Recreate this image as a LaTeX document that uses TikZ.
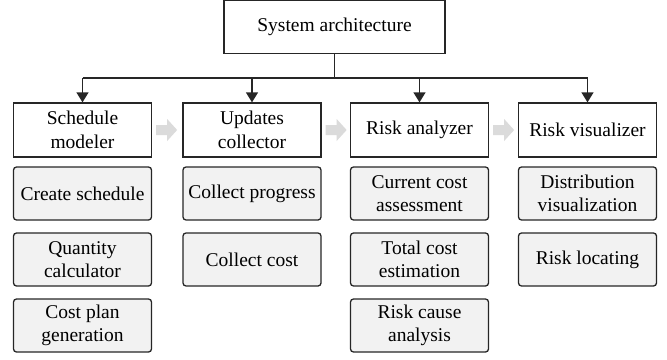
\documentclass[tikz,border=0pt]{standalone}
\usepackage{fontspec}
\setmainfont{Liberation Serif}
\usetikzlibrary{arrows.meta}
\begin{document}
\begin{tikzpicture}[x=1pt,y=-1pt,
  mainbox/.style={draw=black!85, line width=1.3pt, fill=white,
    minimum width=138pt, minimum height=54pt, align=center, inner sep=0pt,
    font=\fontsize{19.5}{23.5}\selectfont},
  subbox/.style={mainbox, fill=gray!10, minimum height=53pt, rounded corners=3pt},
  flow/.style={fill=gray!28, draw=none},
  link/.style={draw=black!85, line width=1.3pt, -{Triangle[length=10pt,width=12pt]}},
  bus/.style={draw=black!85, line width=1.3pt}
]
\useasboundingbox (0,0) rectangle (667,359);

% root
\node[mainbox, minimum width=221pt, minimum height=53pt] (top) at (334.5,27) {System architecture};

% modules
\node[mainbox] (m1) at (82.5,130) {Schedule\\modeler};
\node[mainbox] (m2) at (252,130) {Updates\\collector};
\node[mainbox] (m3) at (419.5,130) {Risk analyzer};
\node[mainbox] (m4) at (587.5,130) {Risk visualizer};

% functions of each module
\node[subbox] (a1) at (82.5,193.5) {Create schedule};
\node[subbox] (a2) at (82.5,259.5) {Quantity\\calculator};
\node[subbox] (a3) at (82.5,325.5) {Cost plan\\generation};
\node[subbox] (b1) at (252,193.5) {Collect progress};
\node[subbox] (b2) at (252,259.5) {Collect cost};
\node[subbox] (c1) at (419.5,193.5) {Current cost\\assessment};
\node[subbox] (c2) at (419.5,259.5) {Total cost\\estimation};
\node[subbox] (c3) at (419.5,325.5) {Risk cause\\analysis};
\node[subbox] (d1) at (587.5,193.5) {Distribution\\visualization};
\node[subbox] (d2) at (587.5,259.5) {Risk locating};

% distribution bus
\coordinate (j) at (334.5,78);
\draw[bus] (top.south) -- (top.south |- j);
\draw[bus] (m1.north |- j) -- (m4.north |- j);
\foreach \m in {m1,m2,m3,m4}
  \draw[link] (\m.north |- j) -- (\m.north);

% block arrows between modules
\foreach \p/\q in {m1/m2, m2/m3, m3/m4}{
  \path (\p.east) ++(4,0) coordinate (s);
  \fill[flow] (s) ++(0,-5) -- ++(11,0) -- ++(0,-6) -- ++(10,11)
    -- ++(-10,11) -- ++(0,-6) -- ++(-11,0) -- cycle;
}
\end{tikzpicture}
\end{document}
